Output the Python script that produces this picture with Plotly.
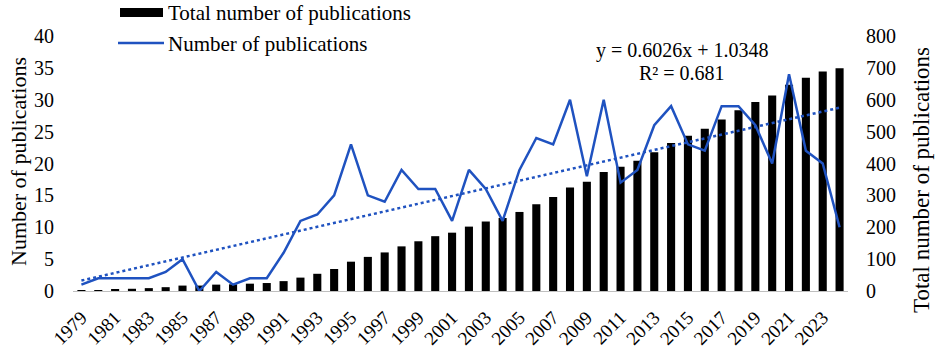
import plotly.graph_objects as go

years = [str(y) for y in range(1979, 2025)]
annual = [1, 2, 2, 2, 2, 3, 5, 0, 3, 1, 2, 2, 6, 11, 12, 15, 23, 15, 14, 19, 16, 16, 11, 19, 16, 11,
          19, 24, 23, 30, 18, 30, 17, 19, 26, 29, 23, 22, 29, 29, 26, 20, 34, 22, 20, 10]
total = [1, 3, 5, 7, 9, 12, 17, 17, 20, 21, 23, 25, 31, 42, 54, 69, 92, 107, 121, 140, 156, 172, 183,
         202, 218, 229, 248, 272, 295, 325, 343, 373, 390, 409, 435, 464, 487, 509, 538, 567, 593,
         613, 647, 669, 689, 699]
slope, intercept = 0.6026, 1.0348
trend = [slope * (i + 1) + intercept for i in range(len(years))]
tick_years = [str(y) for y in range(1979, 2024, 2)]

W, H = 935, 352
L, R, T, B = 73, 848, 36, 291
def px(x): return (x - L) / (R - L)
def py(y): return (B - y) / (B - T)

FONT = "Liberation Serif, Times New Roman, serif"
BLUE = "#1F52C0"

fig = go.Figure()
fig.add_trace(go.Bar(x=years, y=total, marker=dict(color="black", line=dict(width=0)),
                     yaxis="y", name="Total number of publications", showlegend=False))
fig.add_trace(go.Scatter(x=years, y=trend, mode="lines", line=dict(color=BLUE, width=2.5, dash="dot"),
                         yaxis="y2", showlegend=False))
fig.add_trace(go.Scatter(x=years, y=annual, mode="lines", line=dict(color=BLUE, width=2.5),
                         yaxis="y2", name="Number of publications", showlegend=False))

fig.update_layout(
    width=W, height=H,
    margin=dict(l=L, r=W - R, t=T, b=H - B, autoexpand=False),
    paper_bgcolor="white", plot_bgcolor="white",
    font=dict(family=FONT, color="black", size=20),
    bargap=0.52,
    xaxis=dict(type="category", tickangle=-45, tickvals=tick_years, ticktext=tick_years,
               tickfont=dict(size=19), showline=True, linecolor="#BFBFBF", linewidth=1,
               showgrid=False, ticks="", zeroline=False, automargin=False, ticklabelstandoff=7),
    yaxis=dict(side="right", range=[0, 800], dtick=100, showgrid=False, zeroline=False,
               showline=False, ticks="", tickfont=dict(size=20), automargin=False,
               ticklabelstandoff=17),
    yaxis2=dict(side="left", overlaying="y", range=[0, 40], dtick=5, showgrid=False,
                zeroline=False, showline=False, ticks="", tickfont=dict(size=20), automargin=False,
                ticklabelstandoff=18),
    shapes=[
        dict(type="rect", xref="paper", yref="paper", x0=px(120), x1=px(163), y0=py(17), y1=py(8),
             fillcolor="black", line=dict(width=0)),
        dict(type="line", xref="paper", yref="paper", x0=px(118), x1=px(164), y0=py(43), y1=py(43),
             line=dict(color=BLUE, width=2.5)),
    ],
    annotations=[
        dict(text="Total number of publications", xref="paper", yref="paper", x=px(166), y=py(13),
             xanchor="left", yanchor="middle", showarrow=False, font=dict(size=21)),
        dict(text="Number of publications", xref="paper", yref="paper", x=px(166), y=py(44),
             xanchor="left", yanchor="middle", showarrow=False, font=dict(size=21)),
        dict(text="y = 0.6026x + 1.0348", xref="paper", yref="paper", x=px(682), y=py(50),
             xanchor="center", yanchor="middle", showarrow=False, font=dict(size=20)),
        dict(text="R² = 0.681", xref="paper", yref="paper", x=px(682), y=py(73),
             xanchor="center", yanchor="middle", showarrow=False, font=dict(size=20)),
        dict(text="Number of publications", xref="paper", yref="paper", x=px(18), y=py(162),
             xanchor="center", yanchor="middle", textangle=-90, showarrow=False, font=dict(size=22)),
        dict(text="Total number of publications", xref="paper", yref="paper", x=px(921), y=py(180),
             xanchor="center", yanchor="middle", textangle=-90, showarrow=False, font=dict(size=23)),
    ],
)

fig.write_html("out.html", config={"displayModeBar": False},
               post_script="document.body.style.margin='0';")
